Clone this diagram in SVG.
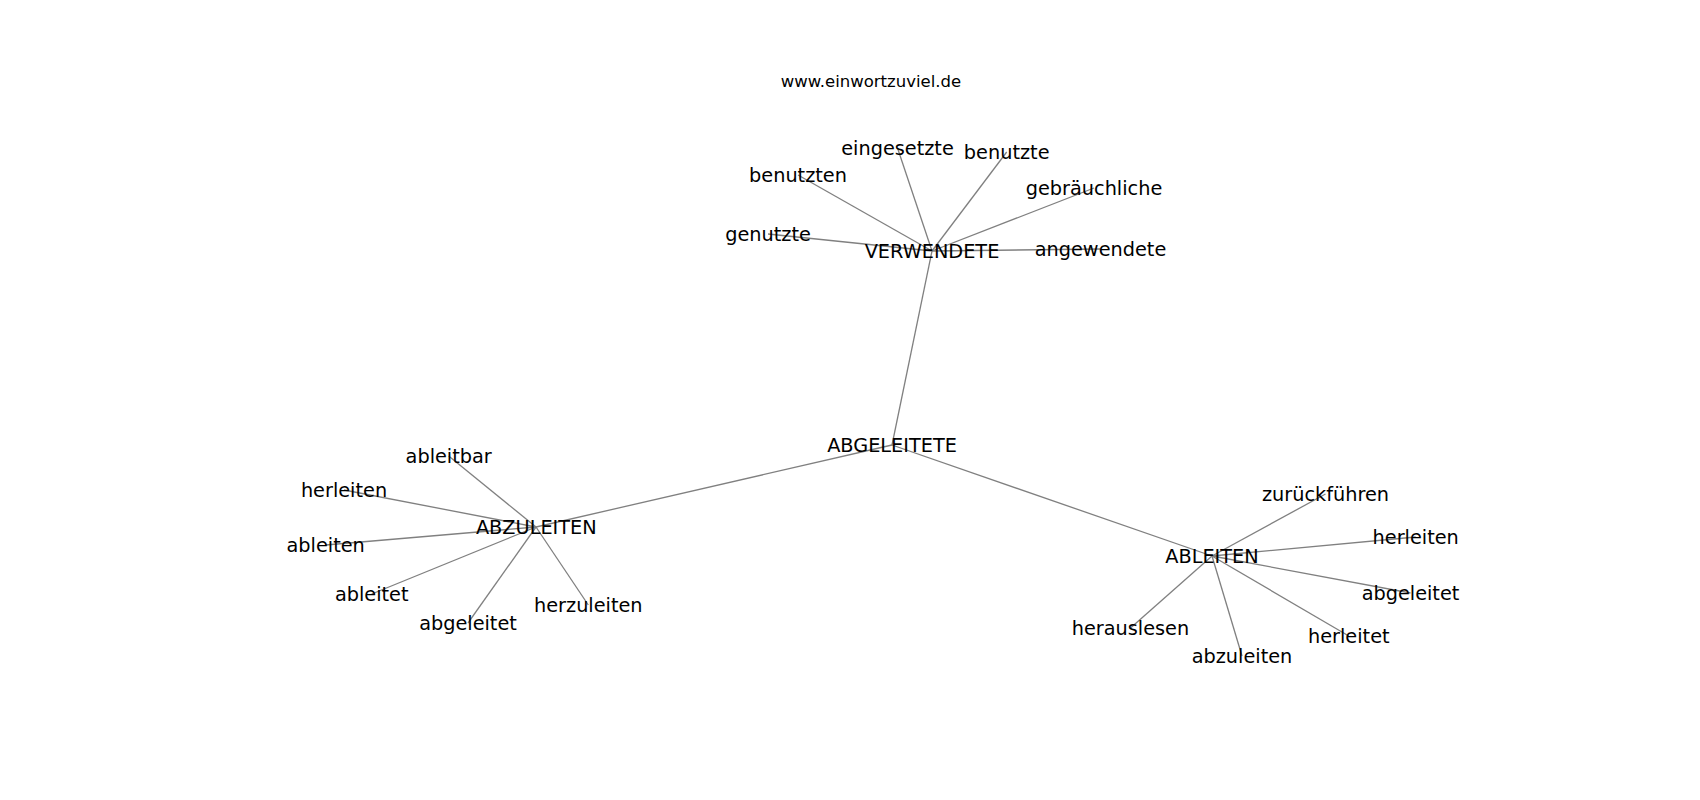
<svg xmlns="http://www.w3.org/2000/svg" width="1700" height="800" viewBox="0 0 1700 800">
<style>
.e{stroke:#808080;stroke-width:1.3;fill:none}
text{font-family:"DejaVu Sans","Liberation Sans",sans-serif;fill:#000;text-anchor:middle}
.n text{font-size:19.3px}
.t{font-size:16.5px}
</style>
<rect width="1700" height="800" fill="#fff"/>
<g id="connectors">
<line class="e" x1="892" y1="445" x2="932" y2="251"/>
<line class="e" x1="892" y1="445" x2="536" y2="527"/>
<line class="e" x1="892" y1="445" x2="1212" y2="556"/>
<line class="e" x1="932" y1="251" x2="897.5" y2="148"/>
<line class="e" x1="932" y1="251" x2="1006.7" y2="152"/>
<line class="e" x1="932" y1="251" x2="798" y2="175"/>
<line class="e" x1="932" y1="251" x2="1094" y2="188"/>
<line class="e" x1="932" y1="251" x2="768" y2="234"/>
<line class="e" x1="932" y1="251" x2="1100.5" y2="249"/>
<line class="e" x1="536" y1="527" x2="448.7" y2="456"/>
<line class="e" x1="536" y1="527" x2="344" y2="490"/>
<line class="e" x1="536" y1="527" x2="325.7" y2="545"/>
<line class="e" x1="536" y1="527" x2="371.7" y2="594"/>
<line class="e" x1="536" y1="527" x2="468" y2="623"/>
<line class="e" x1="536" y1="527" x2="588.3" y2="605"/>
<line class="e" x1="1212" y1="556" x2="1325.5" y2="494"/>
<line class="e" x1="1212" y1="556" x2="1415.7" y2="537"/>
<line class="e" x1="1212" y1="556" x2="1410.5" y2="593"/>
<line class="e" x1="1212" y1="556" x2="1130.5" y2="628"/>
<line class="e" x1="1212" y1="556" x2="1348.8" y2="636"/>
<line class="e" x1="1212" y1="556" x2="1242" y2="656"/>
</g>
<text class="t" x="871" y="87">www.einwortzuviel.de</text>
<g class="n">
<g id="n-abgeleitete"><text x="892" y="452">ABGELEITETE</text></g>
<g id="n-verwendete"><text x="932" y="258">VERWENDETE</text></g>
<g id="n-eingesetzte"><text x="897.5" y="155">eingesetzte</text></g>
<g id="n-benutzte"><text x="1006.7" y="159">benutzte</text></g>
<g id="n-benutzten"><text x="798" y="182">benutzten</text></g>
<g id="n-gebraeuchliche"><text x="1094" y="195">gebräuchliche</text></g>
<g id="n-genutzte"><text x="768" y="241">genutzte</text></g>
<g id="n-angewendete"><text x="1100.5" y="256">angewendete</text></g>
<g id="n-abzuleiten-hub"><text x="536.3" y="534">ABZULEITEN</text></g>
<g id="n-ableitbar"><text x="448.7" y="463">ableitbar</text></g>
<g id="n-herleiten-l"><text x="344" y="497">herleiten</text></g>
<g id="n-ableiten"><text x="325.7" y="552">ableiten</text></g>
<g id="n-ableitet"><text x="371.7" y="601">ableitet</text></g>
<g id="n-abgeleitet-l"><text x="468" y="630">abgeleitet</text></g>
<g id="n-herzuleiten"><text x="588.3" y="612">herzuleiten</text></g>
<g id="n-ableiten-hub"><text x="1212" y="563">ABLEITEN</text></g>
<g id="n-zurueckfuehren"><text x="1325.5" y="501">zurückführen</text></g>
<g id="n-herleiten-r"><text x="1415.7" y="544">herleiten</text></g>
<g id="n-abgeleitet-r"><text x="1410.5" y="600">abgeleitet</text></g>
<g id="n-herauslesen"><text x="1130.5" y="635">herauslesen</text></g>
<g id="n-herleitet"><text x="1348.8" y="643">herleitet</text></g>
<g id="n-abzuleiten"><text x="1242" y="663">abzuleiten</text></g>
</g>
</svg>
